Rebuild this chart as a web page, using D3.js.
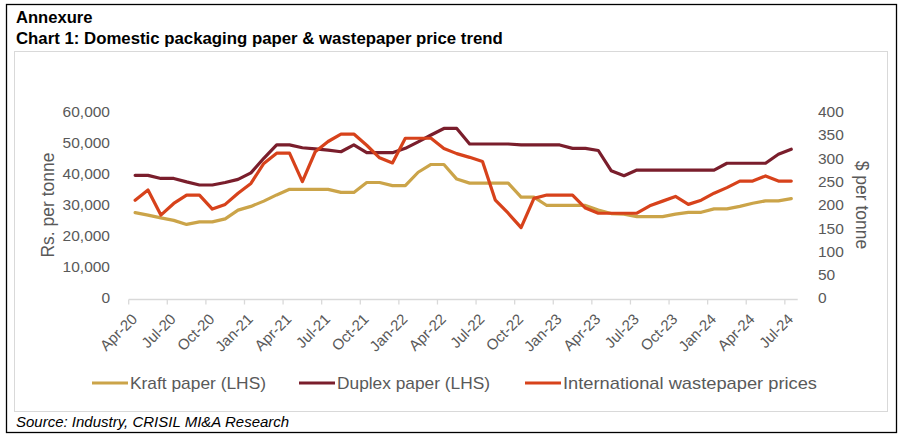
<!DOCTYPE html>
<html>
<head>
<meta charset="utf-8">
<script src="https://cdn.jsdelivr.net/npm/d3@7"></script>
<style>
  html, body { margin: 0; padding: 0; background: #ffffff; }
  svg { display: block; }
</style>
</head>
<body>
<svg id="chart" width="903" height="437"></svg>
<script>
const months = ["Apr-20","May-20","Jun-20","Jul-20","Aug-20","Sep-20","Oct-20","Nov-20","Dec-20",
  "Jan-21","Feb-21","Mar-21","Apr-21","May-21","Jun-21","Jul-21","Aug-21","Sep-21","Oct-21","Nov-21","Dec-21",
  "Jan-22","Feb-22","Mar-22","Apr-22","May-22","Jun-22","Jul-22","Aug-22","Sep-22","Oct-22","Nov-22","Dec-22",
  "Jan-23","Feb-23","Mar-23","Apr-23","May-23","Jun-23","Jul-23","Aug-23","Sep-23","Oct-23","Nov-23","Dec-23",
  "Jan-24","Feb-24","Mar-24","Apr-24","May-24","Jun-24","Jul-24"];

const kraft = [27500,26700,25800,25000,23700,24500,24500,25500,28300,29500,31200,33200,35000,35000,35000,35000,
  34000,34000,37200,37200,36200,36200,40500,43000,43000,38300,37000,37000,37000,37000,32500,32500,29800,29800,
  29800,29800,28300,27200,27000,26200,26200,26200,27000,27600,27600,28700,28700,29500,30500,31300,31300,32000];

const duplex = [39500,39500,38500,38500,37400,36400,36400,37200,38200,40300,45000,49300,49300,48400,48000,47600,
  47100,49300,46800,46800,46800,48200,50300,52500,54600,54600,49600,49600,49600,49600,49300,49300,49300,49300,
  48200,48200,47500,41000,39400,41200,41200,41200,41200,41200,41200,41200,43400,43400,43400,43400,46300,47900];

const intl = [210,232,178,203,221,221,191,201,225,246,289,311,311,250,314,336,352,352,328,301,290,343,343,343,
  321,310,302,293,210,182,151,214,221,221,221,193,182,182,182,182,198,208,218,201,210,225,237,251,251,262,251,251];

const leftTicks = [0,10000,20000,30000,40000,50000,60000];
const rightTicks = [0,50,100,150,200,250,300,350,400];
const tickMonths = ["Apr-20","Jul-20","Oct-20","Jan-21","Apr-21","Jul-21","Oct-21","Jan-22","Apr-22","Jul-22",
  "Oct-22","Jan-23","Apr-23","Jul-23","Oct-23","Jan-24","Apr-24","Jul-24"];

const seriesNames = ["Kraft paper (LHS)","Duplex paper (LHS)","International wastepaper prices"];
const colors = ["#CBA449","#7A1E2C","#D7421B"];

const svg = d3.select("#chart");
const grey = "#595959";

// outer frames
svg.append("rect").attr("x",6.5).attr("y",4.5).attr("width",890).attr("height",428)
  .attr("fill","none").attr("stroke","#000").attr("stroke-width",1.3);
svg.append("rect").attr("x",14.5).attr("y",51.5).attr("width",873).attr("height",360)
  .attr("fill","none").attr("stroke","#d9d9d9").attr("stroke-width",1);

// titles
const narrow = "'Liberation Sans Narrow', 'Arial Narrow', Arial, sans-serif";
svg.append("text").attr("x",16).attr("y",23).text("Annexure")
  .attr("font-family",narrow).attr("font-weight","bold").attr("font-size",16.6).attr("fill","#000");
svg.append("text").attr("x",16).attr("y",44).text("Chart 1: Domestic packaging paper & wastepaper price trend")
  .attr("font-family",narrow).attr("font-weight","bold").attr("font-size",16.8).attr("fill","#000");
svg.append("text").attr("x",16).attr("y",427).text("Source: Industry, CRISIL MI&A Research")
  .attr("font-family",narrow).attr("font-style","italic").attr("font-size",15).attr("fill","#000");

// scales
const x = d3.scaleBand().domain(months).range([128.7, 797.7]).paddingInner(0).paddingOuter(0);
const yL = d3.scaleLinear().domain([0,60000]).range([298,111.7]);
const yR = d3.scaleLinear().domain([0,400]).range([298,111.7]);
const cx = m => x(m) + x.bandwidth()/2;

const fontAxis = "'Liberation Sans', Arial, sans-serif";

// x axis line and ticks
const axisY = 299.5;
svg.append("line").attr("x1",128.7).attr("x2",797.7).attr("y1",axisY).attr("y2",axisY)
  .attr("stroke","#d9d9d9").attr("stroke-width",1.3);
svg.selectAll(".xt").data(tickMonths).enter().append("line")
  .attr("x1",d=>x(d)).attr("x2",d=>x(d)).attr("y1",axisY).attr("y2",axisY+5)
  .attr("stroke","#d9d9d9").attr("stroke-width",1.3);
svg.selectAll(".xl").data(tickMonths).enter().append("text")
  .attr("transform",d=>`translate(${cx(d)+3},${320}) rotate(-45)`)
  .attr("text-anchor","end").attr("font-family",fontAxis).attr("font-size",15).attr("fill",grey)
  .text(d=>d);

// left axis labels
svg.selectAll(".yl").data(leftTicks).enter().append("text")
  .attr("x",110).attr("y",d=>yL(d)).attr("dy","0.35em").attr("text-anchor","end")
  .attr("font-family",fontAxis).attr("font-size",15.5).attr("fill",grey)
  .text(d=>d3.format(",")(d));
// right axis labels
svg.selectAll(".yr").data(rightTicks).enter().append("text")
  .attr("x",818).attr("y",d=>yR(d)).attr("dy","0.35em").attr("text-anchor","start")
  .attr("font-family",fontAxis).attr("font-size",15.5).attr("fill",grey)
  .text(d=>d);

// axis titles
svg.append("text").attr("transform","translate(54,205) rotate(-90)").attr("text-anchor","middle")
  .attr("font-family",fontAxis).attr("font-size",17.5).attr("fill",grey).text("Rs. per tonne");
svg.append("text").attr("transform","translate(856,205) rotate(90)").attr("text-anchor","middle")
  .attr("font-family",fontAxis).attr("font-size",17.5).attr("fill",grey).text("$ per tonne");

// lines
const lineL = d3.line().x((d,i)=>cx(months[i])).y(d=>yL(d));
const lineR = d3.line().x((d,i)=>cx(months[i])).y(d=>yR(d));
const g = svg.append("g").attr("fill","none").attr("stroke-width",3.2)
  .attr("stroke-linejoin","round").attr("stroke-linecap","round");
g.append("path").attr("d",lineL(kraft)).attr("stroke",colors[0]);
g.append("path").attr("d",lineL(duplex)).attr("stroke",colors[1]);
g.append("path").attr("d",lineR(intl)).attr("stroke",colors[2]);

// legend
const legendX = [92, 299, 525];
const legendTextW = [136, 153, 254];
const lg = svg.selectAll(".lg").data(seriesNames).enter().append("g")
  .attr("transform",(d,i)=>`translate(${legendX[i]},383)`);
lg.append("line").attr("x1",0).attr("x2",36).attr("y1",0).attr("y2",0)
  .attr("stroke",(d,i)=>colors[i]).attr("stroke-width",3.2);
lg.append("text").attr("x",38).attr("y",0).attr("dy","0.35em")
  .attr("font-family",fontAxis).attr("font-size",17).attr("fill",grey)
  .attr("textLength",(d,i)=>legendTextW[i]).attr("lengthAdjust","spacingAndGlyphs")
  .text(d=>d);
</script>
</body>
</html>
